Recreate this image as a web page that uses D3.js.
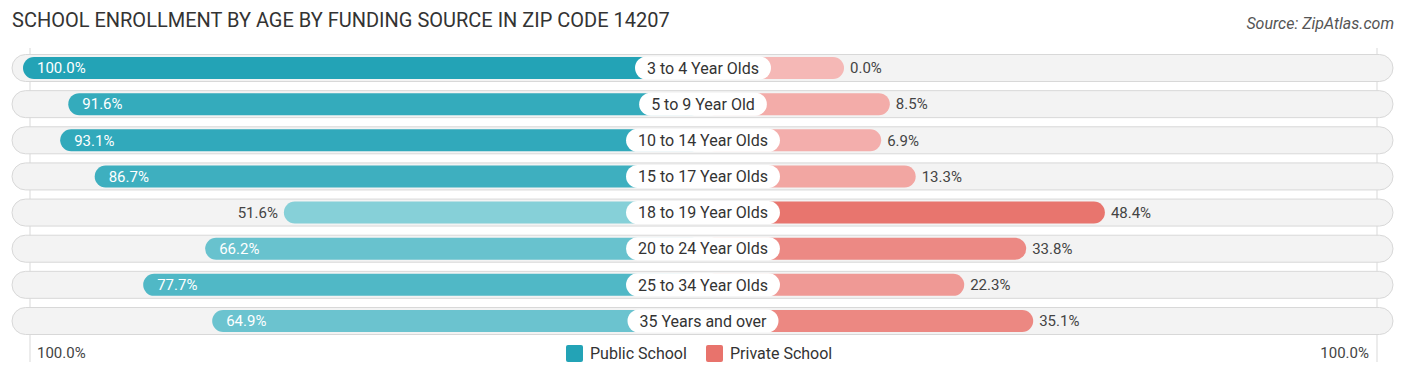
<!DOCTYPE html>
<html>
<head>
<meta charset="utf-8">
<script src="https://cdn.jsdelivr.net/npm/d3@7"></script>
<style>
  html, body { margin: 0; padding: 0; background: #fff; }
  #chart { width: 1406px; height: 377px; }
  text { font-family: Roboto, "Open Sans", sans-serif; }
</style>
</head>
<body>
<div id="chart"></div>
<script>
// age groups, top to bottom
const categories = [
  "3 to 4 Year Olds",
  "5 to 9 Year Old",
  "10 to 14 Year Olds",
  "15 to 17 Year Olds",
  "18 to 19 Year Olds",
  "20 to 24 Year Olds",
  "25 to 34 Year Olds",
  "35 Years and over"
];
const publicValues = [100.0, 91.6, 93.1, 86.7, 51.6, 66.2, 77.7, 64.9];
const privateValues = [0.0, 8.5, 6.9, 13.3, 48.4, 33.8, 22.3, 35.1];
const seriesNames = ["Public School", "Private School"];
const axisLabels = ["100.0%", "100.0%"];

const W = 1406, H = 377;
const cx = 703;          // middle of the chart, under the age labels
const gap = 141;         // half of the label zone; bars start past it
const pxPerPct = 5.39;

const svg = d3.select("#chart")
  .append("svg")
  .attr("width", W)
  .attr("height", H);

// title + source
svg.append("text")
  .attr("x", 12)
  .attr("y", 27)
  .attr("fill", "#333")
  .style("font-size", "20px")
  .text("SCHOOL ENROLLMENT BY AGE BY FUNDING SOURCE IN ZIP CODE 14207");

svg.append("text")
  .attr("x", 1394)
  .attr("y", 29)
  .attr("text-anchor", "end")
  .attr("fill", "#555")
  .style("font-size", "16px")
  .style("font-style", "italic")
  .text("Source: ZipAtlas.com");

const y = d3.scalePoint()
  .domain(categories)
  .range([68, 321]);

const xPub = d3.scaleLinear().domain([0, 100]).range([cx - gap, cx - gap - 100 * pxPerPct]);
const xPriv = d3.scaleLinear().domain([0, 100]).range([cx + gap, cx + gap + 100 * pxPerPct]);

// darker shade for bigger values
const pubColor = d3.scaleLinear().domain([50, 100]).range(["#89d1d9", "#23a3b6"]).clamp(true);
const privColor = d3.scaleLinear().domain([0, 50]).range(["#f5b8b6", "#e8736c"]).clamp(true);

// faint guide lines at the 100% ends
svg.selectAll("line.guide")
  .data([30, 1377])
  .enter()
  .append("line")
  .attr("class", "guide")
  .attr("x1", d => d)
  .attr("x2", d => d)
  .attr("y1", 48)
  .attr("y2", 362)
  .attr("stroke", "#d9d9d9")
  .attr("stroke-width", 1);

const rowH = 27, barH = 22;

const rows = svg.selectAll("g.row")
  .data(categories.map((c, i) => ({ cat: c, pub: publicValues[i], priv: privateValues[i] })))
  .enter()
  .append("g")
  .attr("class", "row")
  .attr("transform", d => `translate(0,${y(d.cat)})`);

// background pill
rows.append("rect")
  .attr("x", 12)
  .attr("y", -rowH / 2)
  .attr("width", 1381)
  .attr("height", rowH)
  .attr("rx", rowH / 2)
  .attr("fill", "#f3f3f3")
  .attr("stroke", "#d8d8d8")
  .attr("stroke-width", 1);

// public bars (go left)
rows.append("rect")
  .attr("x", d => xPub(d.pub))
  .attr("y", -barH / 2)
  .attr("width", d => cx - xPub(d.pub))
  .attr("height", barH)
  .attr("rx", barH / 2)
  .attr("fill", d => pubColor(d.pub));

// private bars (go right)
rows.append("rect")
  .attr("x", cx)
  .attr("y", -barH / 2)
  .attr("width", d => xPriv(d.priv) - cx)
  .attr("height", barH)
  .attr("rx", barH / 2)
  .attr("fill", d => privColor(d.priv));

// public value labels: inside if the bar is long enough
rows.append("text")
  .attr("x", d => d.pub > 60 ? xPub(d.pub) + 14 : xPub(d.pub) - 6)
  .attr("y", 0)
  .attr("dy", "0.35em")
  .attr("text-anchor", d => d.pub > 60 ? "start" : "end")
  .attr("fill", d => d.pub > 60 ? "#fff" : "#444")
  .style("font-size", "15px")
  .text(d => d.pub.toFixed(1) + "%");

rows.append("text")
  .attr("x", d => xPriv(d.priv) + 6)
  .attr("y", 0)
  .attr("dy", "0.35em")
  .attr("fill", "#444")
  .style("font-size", "15px")
  .text(d => d.priv.toFixed(1) + "%");

// centre labels
rows.each(function (d) {
  const g = d3.select(this);
  const t = g.append("text")
    .attr("x", cx)
    .attr("y", 0)
    .attr("dy", "0.36em")
    .attr("text-anchor", "middle")
    .attr("fill", "#333")
    .style("font-size", "16px")
    .text(d.cat);
  const w = t.node().getComputedTextLength() + 24;
  g.insert("rect", "text:last-of-type")
    .attr("x", cx - w / 2)
    .attr("y", -11.5)
    .attr("width", w)
    .attr("height", 23)
    .attr("rx", 11.5)
    .attr("fill", "#fff");
});

// bottom axis labels
svg.append("text")
  .attr("x", 37)
  .attr("y", 353)
  .attr("dy", "0.35em")
  .attr("fill", "#444")
  .style("font-size", "15px")
  .text(axisLabels[0]);

svg.append("text")
  .attr("x", 1369)
  .attr("y", 353)
  .attr("dy", "0.35em")
  .attr("text-anchor", "end")
  .attr("fill", "#444")
  .style("font-size", "15px")
  .text(axisLabels[1]);

// legend
const legendX = [566, 706];
const legendColors = ["#23a3b6", "#e8736c"];
const legend = svg.selectAll("g.legend")
  .data(seriesNames)
  .enter()
  .append("g")
  .attr("class", "legend")
  .attr("transform", (_, i) => `translate(${legendX[i]},353)`);

legend.append("rect")
  .attr("x", 0)
  .attr("y", -8)
  .attr("width", 17)
  .attr("height", 17)
  .attr("rx", 2)
  .attr("fill", (_, i) => legendColors[i]);

legend.append("text")
  .attr("x", 24)
  .attr("y", 0)
  .attr("dy", "0.35em")
  .attr("fill", "#333")
  .style("font-size", "16px")
  .text(d => d);
</script>
</body>
</html>
